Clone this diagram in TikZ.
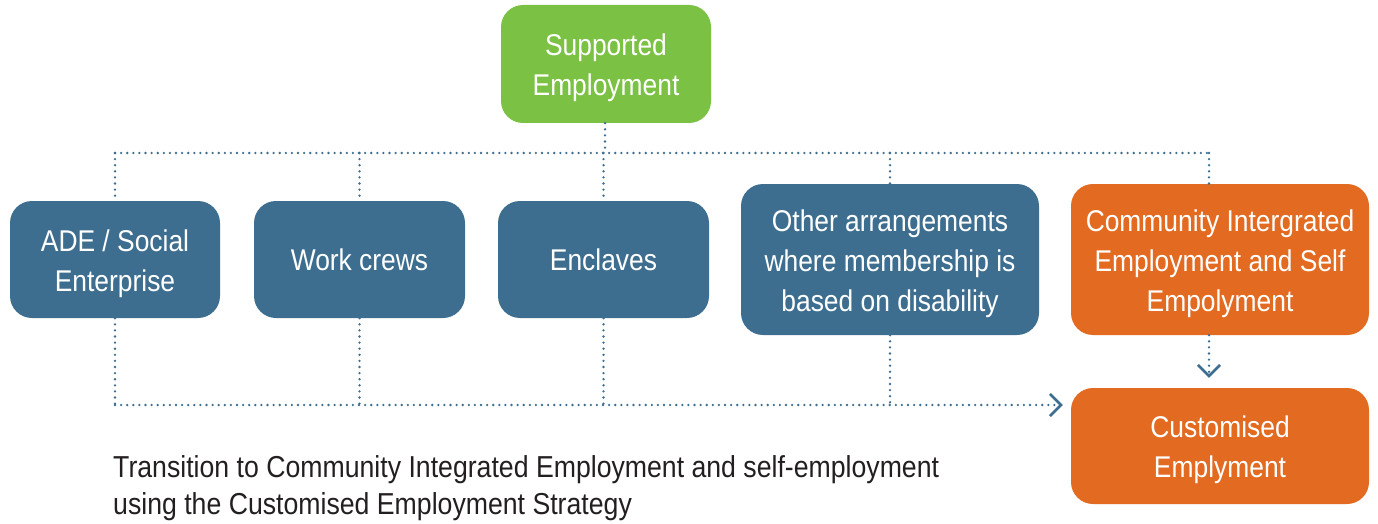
\documentclass[tikz,border=0pt]{standalone}
\usepackage{fontspec}
\setmainfont{Liberation Sans}[FakeStretch=0.88]
\usetikzlibrary{arrows.meta}
\definecolor{sgreen}{HTML}{7BC143}
\definecolor{sblue}{HTML}{3D6E8F}
\definecolor{sorange}{HTML}{E36A21}
\definecolor{stext}{HTML}{231F20}
\tikzset{
  box/.style={rounded corners=22pt, inner sep=0pt},
  boxtext/.style={text=white, align=center, inner sep=0pt, yshift=-4pt,
    font=\fontsize{30}{40}\selectfont},
  onelinetext/.style={boxtext, yshift=4pt},
  greenbox/.style={box, fill=sgreen},
  bluebox/.style={box, fill=sblue},
  orangebox/.style={box, fill=sorange},
  link/.style={draw=sblue, line width=2.6pt, line cap=round,
    dash pattern=on 0pt off 6.1pt},
  tip/.style={-{Straight Barb[length=11pt,width=22pt,line width=2.6pt]}}
}
\begin{document}
\begin{tikzpicture}[x=1pt,y=-1pt]
\useasboundingbox (0,0) rectangle (1378,524);
% boxes, each with its caption centred inside
\node[greenbox, minimum width=210pt, minimum height=118pt,
  label={[boxtext]center:{Supported\\Employment}}] (se) at (606,64) {};
\node[bluebox, minimum width=210pt, minimum height=117pt,
  label={[boxtext]center:{ADE / Social\\Enterprise}}] (ade) at (115,259.5) {};
\node[bluebox, minimum width=211pt, minimum height=117pt,
  label={[onelinetext]center:{Work crews}}] (wc) at (359.5,259.5) {};
\node[bluebox, minimum width=211pt, minimum height=117pt,
  label={[onelinetext]center:{Enclaves}}] (en) at (603.5,259.5) {};
\node[bluebox, minimum width=298pt, minimum height=151pt,
  label={[boxtext]center:{Other arrangements\\where membership is\\based on disability}}] (oa) at (890,259.5) {};
\node[orangebox, minimum width=298pt, minimum height=151pt,
  label={[boxtext]center:{Community Intergrated\\Employment and Self\\Empolyment}}] (ci) at (1220,259.5) {};
\node[orangebox, minimum width=298pt, minimum height=116pt,
  label={[boxtext]center:{Customised\\Emplyment}}] (ce) at (1220,446) {};
% branch points
\coordinate (top) at (605,153);
\coordinate (tl) at (115,153);
\coordinate (tr) at (1209,153);
\coordinate (bl) at (115,405);
% top distribution line
\draw[link] (se.south -| top) -- (top);
\draw[link] (tl) -- (tr);
\draw[link] (tl) -- (ade.north -| tl);
\draw[link] (wc.north |- top) -- (wc.north);
\draw[link] (en.north |- top) -- (en.north);
\draw[link] (oa.north |- top) -- (oa.north);
\draw[link] (tr) -- (ci.north -| tr);
% bottom collection line
\draw[link] (ade.south -| bl) -- (bl);
\draw[link] (wc.south) -- (wc.south |- bl);
\draw[link] (en.south) -- (en.south |- bl);
\draw[link] (oa.south) -- (oa.south |- bl);
\draw[link, tip] (bl) -- ([xshift=-8pt]ce.west |- bl);
\draw[link, tip] (ci.south -| tr) -- ([yshift=10pt]ce.north -| tr);
% caption
\node[anchor=north west, align=left, text=stext, inner sep=0pt,
  font=\fontsize{30.3}{37}\selectfont] (cap) at (113,455)
  {Transition to Community Integrated Employment and self-employment\\using the Customised Employment Strategy};
\end{tikzpicture}
\end{document}
